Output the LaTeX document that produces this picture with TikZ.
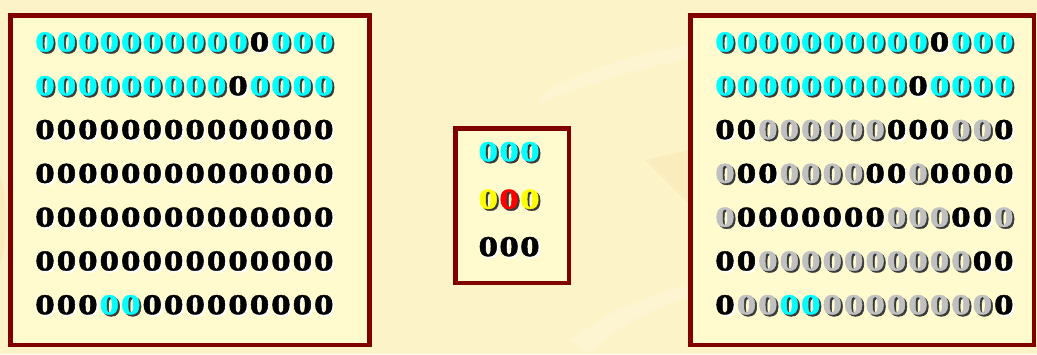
\documentclass[tikz,border=0pt]{standalone}
\usepackage{fontspec}
\newfontfamily\dfont[FakeBold=1.3]{Liberation Serif Bold}
\definecolor{bg}{HTML}{FCF3C8}
\definecolor{boxfill}{HTML}{FFFBCE}
\definecolor{framecol}{HTML}{800000}
\definecolor{streak}{HTML}{F7E0A8}
\definecolor{streaklight}{HTML}{FFF8DC}
\definecolor{cy}{HTML}{00FFFF}
\definecolor{ye}{HTML}{FFFF00}
\definecolor{re}{HTML}{FF0000}
\definecolor{gr}{HTML}{C0C0C0}
\definecolor{shad}{HTML}{3A3A3A}
\colorlet{fgC}{cy}\colorlet{shC}{shad}
\colorlet{fgB}{black}\colorlet{shB}{white}
\colorlet{fgG}{gr}\colorlet{shG}{shad}
\colorlet{fgY}{ye}\colorlet{shY}{shad}
\colorlet{fgR}{re}\colorlet{shR}{shad}
% a digit with its drop shadow, as one text
\newcommand\shdigit[1]{\scalebox{1.36}[1]{\makebox[0pt][l]{\kern1.4pt\smash{\raisebox{-1.8pt}{\textcolor{sh#1}{0}}}}\textcolor{fg#1}{0}}}
\tikzset{
  framebox/.style={draw=framecol, line width=4.5pt, fill=boxfill, inner sep=0pt},
  digit/.style={font=\dfont\fontsize{29}{30}\selectfont, inner sep=0pt, anchor=center},
}
\begin{document}
\begin{tikzpicture}[x=1pt,y=-1pt]
\useasboundingbox (0,0) rectangle (1037,354);
\fill[bg] (0,0) rectangle (1037,354);
% faint background streaks
\fill[streaklight, opacity=0.45] (540,95) .. controls (600,60) and (660,50) .. (720,40) -- (720,52) .. controls (660,64) and (600,78) .. (540,103) -- cycle;
\fill[streak, opacity=0.35] (645,160) -- (690,150) -- (690,205) -- cycle;
\fill[streak, opacity=0.35] (0,175) .. controls (8,200) and (8,240) .. (0,265) -- cycle;
\fill[streaklight, opacity=0.45] (570,340) .. controls (610,310) and (650,295) .. (690,285) -- (690,297) .. controls (650,308) and (615,328) .. (590,354) -- cycle;
% frames
\node[framebox, minimum width=359.2pt, minimum height=329.7pt] (leftbox) at (189.9,180.15) {};
\node[framebox, minimum width=113.5pt, minimum height=154.3pt] (midbox) at (512.05,205.85) {};
\node[framebox, minimum width=343.9pt, minimum height=329.7pt] (rightbox) at (862.25,180.15) {};
% left box digits
\foreach \row [count=\r] in {
  {C,C,C,C,C,C,C,C,C,C,B,C,C,C},
  {C,C,C,C,C,C,C,C,C,B,C,C,C,C},
  {B,B,B,B,B,B,B,B,B,B,B,B,B,B},
  {B,B,B,B,B,B,B,B,B,B,B,B,B,B},
  {B,B,B,B,B,B,B,B,B,B,B,B,B,B},
  {B,B,B,B,B,B,B,B,B,B,B,B,B,B},
  {B,B,B,C,C,B,B,B,B,B,B,B,B,B}}{
  \foreach \c [count=\i] in \row {
    \pgfmathsetmacro\px{45+21.45*(\i-1)}
    \pgfmathsetmacro\py{42+43.8*(\r-1)}
    \node[digit] (L\r-\i) at (\px,\py) {\shdigit{\c}};
  }
}
% right box digits
\foreach \row [count=\r] in {
  {C,C,C,C,C,C,C,C,C,C,B,C,C,C},
  {C,C,C,C,C,C,C,C,C,B,C,C,C,C},
  {B,B,G,G,G,G,G,G,B,B,B,G,G,B},
  {G,B,B,G,G,G,G,B,B,G,B,B,B,B},
  {G,B,B,B,B,B,B,B,G,G,G,B,B,G},
  {B,B,G,G,G,G,G,G,G,G,G,G,B,B},
  {B,G,G,C,C,G,G,G,G,G,G,G,G,B}}{
  \foreach \c [count=\i] in \row {
    \pgfmathsetmacro\px{725+21.45*(\i-1)}
    \pgfmathsetmacro\py{42+43.8*(\r-1)}
    \node[digit] (R\r-\i) at (\px,\py) {\shdigit{\c}};
  }
}
% middle box digits
\foreach \row [count=\r] in {{C,C,C},{Y,R,Y},{B,B,B}}{
  \foreach \c [count=\i] in \row {
    \pgfmathsetmacro\px{488.3+20.8*(\i-1)}
    \pgfmathsetmacro\py{151.7+47.5*(\r-1)}
    \node[digit] (M\r-\i) at (\px,\py) {\shdigit{\c}};
  }
}
\end{tikzpicture}
\end{document}
